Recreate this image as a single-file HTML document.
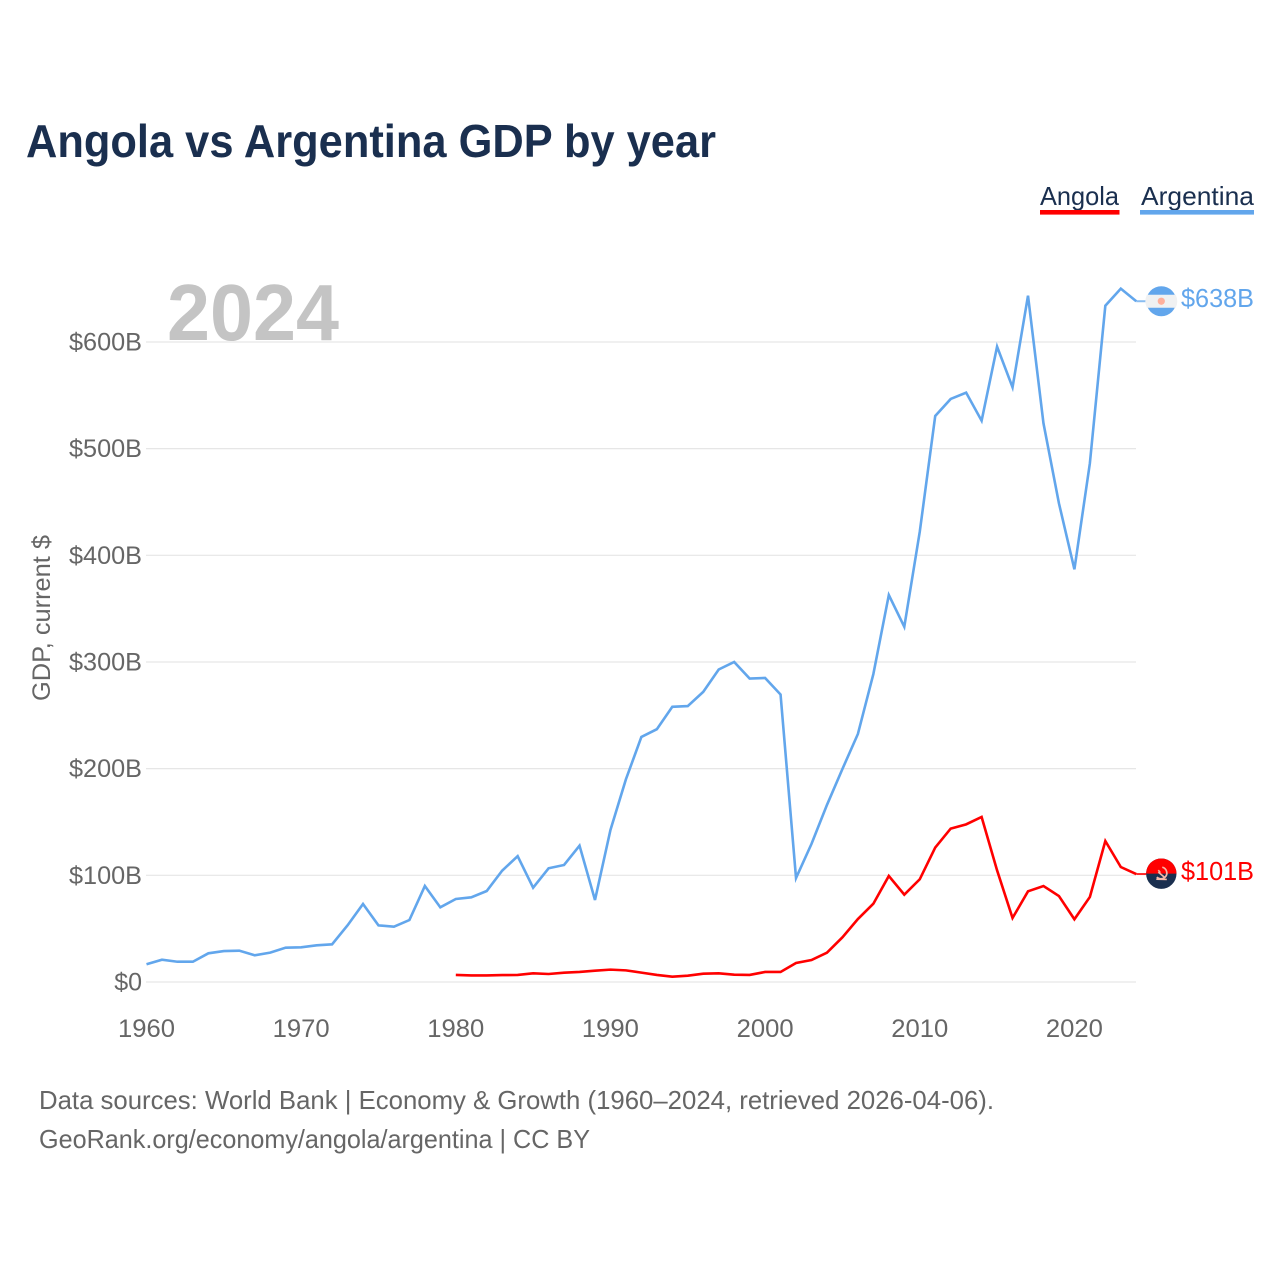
<!DOCTYPE html>
<html lang="en">
<head>
<meta charset="utf-8">
<title>Angola vs Argentina GDP by year</title>
<style>
html,body{margin:0;padding:0;background:#fff;}
svg{display:block;font-family:"Liberation Sans",sans-serif;}
</style>
</head>
<body>
<svg id="chart" xmlns="http://www.w3.org/2000/svg" width="1280" height="1280" viewBox="0 0 1280 1280">
  <rect width="1280" height="1280" fill="#ffffff"/>
  <text x="26" y="157" font-size="46" font-weight="700" fill="#1a2f4f" textLength="690" lengthAdjust="spacingAndGlyphs">Angola vs Argentina GDP by year</text>

  <g>
    <text x="1040" y="205" font-size="26" fill="#1a2f4f" textLength="79" lengthAdjust="spacingAndGlyphs">Angola</text>
    <rect x="1040" y="210" width="79.5" height="4.6" fill="#ff0000"/>
  </g>
  <g>
    <text x="1141" y="205" font-size="26" fill="#1a2f4f" textLength="113" lengthAdjust="spacingAndGlyphs">Argentina</text>
    <rect x="1140" y="210" width="114" height="4.6" fill="#62a6ec"/>
  </g>

  <text transform="translate(50 618) rotate(-90)" text-anchor="middle" font-size="25" fill="#666666" textLength="166" lengthAdjust="spacingAndGlyphs">GDP, current $</text>

  <g id="grid"></g>
  <text x="167" y="340" font-size="80" font-weight="700" fill="#c4c4c4" textLength="172" lengthAdjust="spacingAndGlyphs">2024</text>
  <g id="yticks"></g>
  <g id="xticks"></g>
  <g id="series"></g>
  <g id="ends"></g>

  <text x="39" y="1109" font-size="26" fill="#666666" textLength="955" lengthAdjust="spacingAndGlyphs">Data sources: World Bank | Economy &amp; Growth (1960–2024, retrieved 2026-04-06).</text>
  <text x="39" y="1148" font-size="26" fill="#666666" textLength="551" lengthAdjust="spacingAndGlyphs">GeoRank.org/economy/angola/argentina | CC BY</text>
</svg>
<script>
const years = [1960,1961,1962,1963,1964,1965,1966,1967,1968,1969,1970,1971,1972,1973,1974,1975,1976,1977,1978,1979,1980,1981,1982,1983,1984,1985,1986,1987,1988,1989,1990,1991,1992,1993,1994,1995,1996,1997,1998,1999,2000,2001,2002,2003,2004,2005,2006,2007,2008,2009,2010,2011,2012,2013,2014,2015,2016,2017,2018,2019,2020,2021,2022,2023,2024];
const argentina = [16.6,20.9,19,19,26.9,29,29.4,25,27.5,32.2,32.5,34.4,35.3,53.1,73.1,53.1,51.9,58.1,90,70,77.8,79.4,85.3,104.4,118,88.4,106.6,109.7,127.8,76.9,142.5,190,229.7,237,258,258.7,272,293,300,284.5,285,269.5,97.5,129.5,166,199.7,232.5,288.7,362.8,333,422,530.6,546.6,552.5,526.2,595.6,557.5,643.4,523.8,448.8,386.9,486.3,634,650,638.2];
const angola = [null,null,null,null,null,null,null,null,null,null,null,null,null,null,null,null,null,null,null,null,6.6,6.2,6.2,6.5,6.6,8.1,7.5,8.7,9.4,10.6,11.6,10.9,8.8,6.6,5,5.9,7.8,8.1,6.9,6.6,9.4,9.4,17.8,20.6,27.5,41.9,59,73.4,99.4,81.9,96.3,126,143.8,147.8,154.7,104.7,60,85,90,80.6,58.8,79.7,132.2,107.8,101.2];
const yTickValues = [0,100,200,300,400,500,600];
const xTickYears = [1960,1970,1980,1990,2000,2010,2020];

const NS = 'http://www.w3.org/2000/svg';
function xScale(year){ return 146.5 + (year - 1960) * 15.465; }
function yScale(value){ return 982 - value * 1.0667; }
function make(tag, parent, attrs){
  const el = document.createElementNS(NS, tag);
  for (const k in attrs) el.setAttribute(k, attrs[k]);
  parent.appendChild(el);
  return el;
}
function money(v){ return '$' + Math.round(v) + (v === 0 ? '' : 'B'); }
function linePath(values){
  let d = '';
  let pen = false;
  values.forEach(function(v, i){
    if (v === null) { pen = false; return; }
    d += (pen ? 'L' : 'M') + xScale(years[i]).toFixed(2) + ' ' + yScale(v).toFixed(2);
    pen = true;
  });
  return d;
}

const gridG = document.getElementById('grid');
const yTickG = document.getElementById('yticks');
yTickValues.forEach(function(v){
  const line = make('line', gridG, {x1:146, x2:1136, y1:yScale(v), y2:yScale(v), stroke:'#e6e6e6', 'stroke-width':1.2});
  
  
  const label = make('text', yTickG, {x:142, y:yScale(v) + 8.5, 'text-anchor':'end', 'font-size':25, fill:'#666666'});
  
  
  label.textContent = money(v);
  if (v !== 0) {
    label.setAttribute('textLength', 73);
    label.setAttribute('lengthAdjust', 'spacingAndGlyphs');
  }
});

const xTickG = document.getElementById('xticks');
xTickYears.forEach(function(y){
  const label = make('text', xTickG, {x:xScale(y), y:1037, 'text-anchor':'middle', 'font-size':25, fill:'#666666', textLength:57, lengthAdjust:'spacingAndGlyphs'});
  
  
  label.textContent = y;
});

const seriesG = document.getElementById('series');
const argLine = make('path', seriesG, {d:linePath(argentina), fill:'none', stroke:'#62a6ec', 'stroke-width':2.6, 'stroke-linejoin':'miter'});


const angLine = make('path', seriesG, {d:linePath(angola), fill:'none', stroke:'#ff0000', 'stroke-width':2.6, 'stroke-linejoin':'miter'});



const endsG = document.getElementById('ends');
const lastYear = years[years.length - 1];
const endX = xScale(lastYear);
const flagX = 1161.3;

/* Argentina end marker */
const argValue = argentina[argentina.length - 1];
const argY = yScale(argValue);
const argConn = make('line', endsG, {x1:endX, x2:flagX - 15, y1:argY, y2:argY, stroke:'#62a6ec', 'stroke-width':2, opacity:0.75});


const argFlag = make('g', endsG, {transform:'translate(' + flagX + ' ' + argY + ')'});


make('circle', argFlag, {r:15, fill:'#62a6ec'});
make('path', argFlag, {d:'M-14.4 -6.5H14.4A15 15 0 0 1 14.4 6.5H-14.4A15 15 0 0 1 -14.4 -6.5Z', fill:'#f0f1f2'});
make('circle', argFlag, {r:3.6, fill:'#ffb09c'});
const argLabel = make('text', endsG, {x:1181, y:argY + 6, 'font-size':26, fill:'#62a6ec', textLength:73, lengthAdjust:'spacingAndGlyphs'});


argLabel.textContent = money(argValue);

/* Angola end marker */
const angValue = angola[angola.length - 1];
const angY = yScale(angValue);
const angConn = make('line', endsG, {x1:endX, x2:flagX - 15, y1:angY, y2:angY, stroke:'#ff0000', 'stroke-width':2, opacity:0.85});


const angFlag = make('g', endsG, {transform:'translate(' + flagX + ' ' + (angY - 0.4) + ')'});


make('circle', angFlag, {r:15.2, fill:'#1a2f4f'});
make('path', angFlag, {d:'M-15.2 0A15.2 15.2 0 0 1 15.2 0Z', fill:'#ff0000'});
make('path', angFlag, {d:'M1 -6.5A6 6 0 0 1 3.5 3.8A6 6 0 0 1 -4.5 3.5', fill:'none', stroke:'#f5b8a8', 'stroke-width':1.7});
make('path', angFlag, {d:'M-5 5.5L5.5 5.8M-3 -1.5L3 3.5M-3 -3.5L-1 -1', fill:'none', stroke:'#f5b8a8', 'stroke-width':1.6});
const angLabel = make('text', endsG, {x:1181, y:angY + 6, 'font-size':26, fill:'#ff0000', textLength:73, lengthAdjust:'spacingAndGlyphs'});


angLabel.textContent = money(angValue);
</script>
</body>
</html>
